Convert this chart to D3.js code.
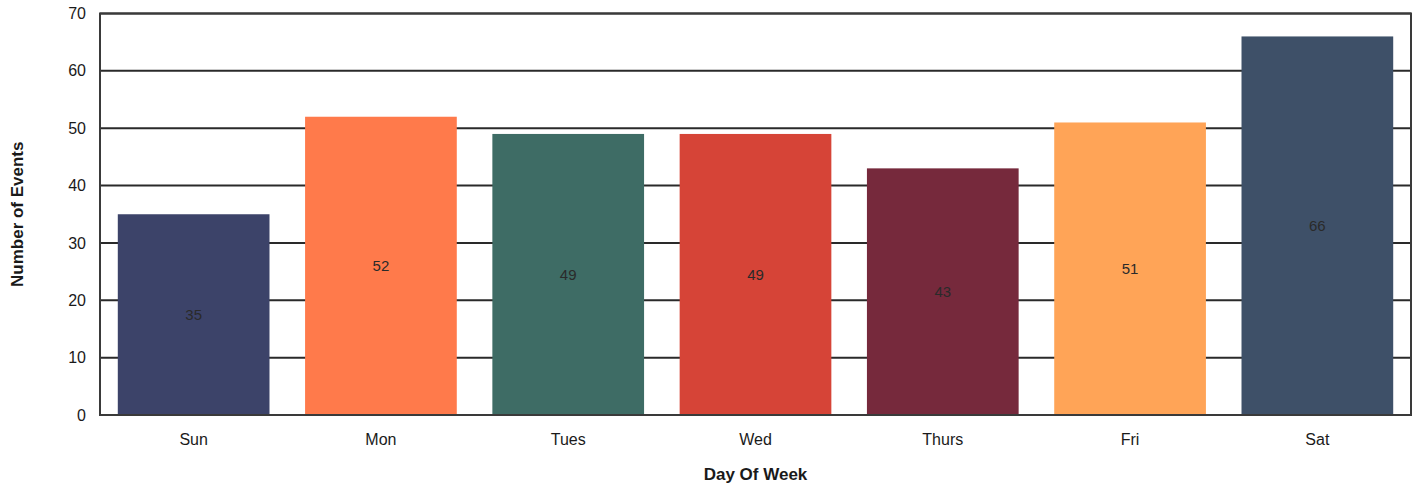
<html>
<head>
<meta charset="utf-8">
<script src="https://d3js.org/d3.v7.min.js"></script>
<style>
  body { margin: 0; background: #fff; }
  text { font-family: "Liberation Sans", Arial, sans-serif; }
  .axis path, .axis line { display: none; }
</style>
</head>
<body>
<svg width="1418" height="490"></svg>
<script>
var days = ["Sun", "Mon", "Tues", "Wed", "Thurs", "Fri", "Sat"];
var events = [35, 52, 49, 49, 43, 51, 66];
var barColors = ["#3c4369", "#ff7a4b", "#3e6c65", "#d64437", "#76293c", "#ffa457", "#3e5068"];
var yTicks = [0, 10, 20, 30, 40, 50, 60, 70];

var svg = d3.select("svg");
var margin = {top: 13.5, right: 7, bottom: 75, left: 100};
var width = 1418 - margin.left - margin.right;
var height = 490 - margin.top - margin.bottom;

var g = svg.append("g")
    .attr("transform", "translate(" + margin.left + "," + margin.top + ")");

var x = d3.scaleBand()
    .domain(days)
    .range([0, width])
    .paddingInner(0.19)
    .paddingOuter(0.095);

var y = d3.scaleLinear()
    .domain([0, 70])
    .range([height, 0]);

// grid lines behind bars
g.selectAll("line.grid")
    .data(yTicks)
  .enter().append("line")
    .attr("class", "grid")
    .attr("x1", 0)
    .attr("x2", width)
    .attr("y1", function(d) { return y(d); })
    .attr("y2", function(d) { return y(d); })
    .attr("stroke", "#2a2a2a")
    .attr("stroke-width", 2);

// bars
g.selectAll("rect.bar")
    .data(events)
  .enter().append("rect")
    .attr("class", "bar")
    .attr("x", function(d, i) { return x(days[i]); })
    .attr("y", function(d) { return y(d); })
    .attr("width", x.bandwidth())
    .attr("height", function(d) { return height - y(d); })
    .attr("fill", function(d, i) { return barColors[i]; });

// value labels
g.selectAll("text.val")
    .data(events)
  .enter().append("text")
    .attr("class", "val")
    .attr("x", function(d, i) { return x(days[i]) + x.bandwidth() / 2; })
    .attr("y", function(d) { return (y(d) + height) / 2; })
    .attr("dy", "0.35em")
    .attr("text-anchor", "middle")
    .style("font-size", "15px")
    .attr("fill", "#2a2a2a")
    .text(function(d) { return d; });

// frame
g.append("rect")
    .attr("x", 0)
    .attr("y", 0)
    .attr("width", width)
    .attr("height", height)
    .attr("fill", "none")
    .attr("stroke", "#3a3a3a")
    .attr("stroke-width", 2);

// y axis
g.append("g")
    .attr("class", "axis")
    .call(d3.axisLeft(y).tickValues(yTicks).tickSize(0).tickPadding(14))
    .selectAll("text")
    .style("font-size", "16px")
    .attr("fill", "#1a1a1a");

// x axis
g.append("g")
    .attr("class", "axis")
    .attr("transform", "translate(0," + height + ")")
    .call(d3.axisBottom(x).tickSize(0).tickPadding(19))
    .selectAll("text")
    .style("font-size", "16px")
    .attr("fill", "#1a1a1a");

// axis titles
svg.append("text")
    .attr("transform", "translate(23," + (margin.top + height / 2) + ") rotate(-90)")
    .attr("text-anchor", "middle")
    .style("font-size", "17px")
    .style("font-weight", "bold")
    .attr("fill", "#1a1a1a")
    .text("Number of Events");

svg.append("text")
    .attr("x", margin.left + width / 2)
    .attr("y", 480)
    .attr("text-anchor", "middle")
    .style("font-size", "17px")
    .style("font-weight", "bold")
    .attr("fill", "#1a1a1a")
    .text("Day Of Week");
</script>
</body>
</html>
